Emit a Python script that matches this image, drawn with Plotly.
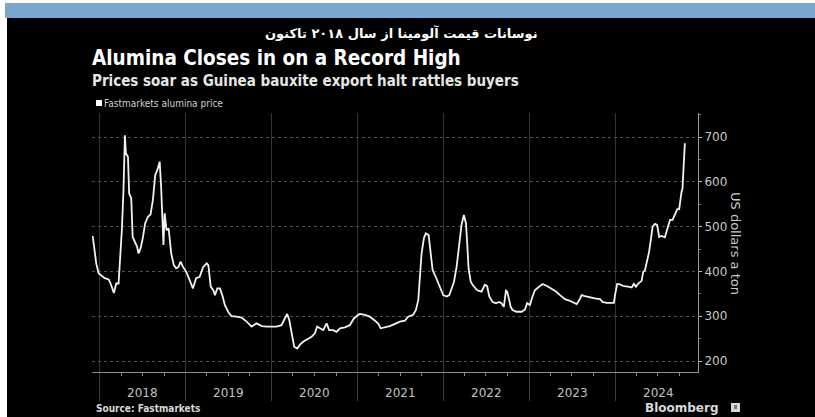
import plotly.graph_objects as go

# Fastmarkets alumina price, US dollars a ton
dates = [
    "2017-12-01", "2017-12-07", "2017-12-16", "2017-12-26", "2018-01-06", "2018-01-21",
    "2018-02-07", "2018-02-15", "2018-03-01", "2018-03-11", "2018-03-21", "2018-03-27",
    "2018-04-04", "2018-04-11", "2018-04-17", "2018-04-21", "2018-04-30", "2018-05-05",
    "2018-05-14", "2018-05-20", "2018-05-28", "2018-06-08", "2018-06-14", "2018-06-23",
    "2018-07-03", "2018-07-12", "2018-07-24", "2018-08-04", "2018-08-14", "2018-08-24",
    "2018-09-04", "2018-09-12", "2018-09-18", "2018-09-21", "2018-09-28", "2018-10-03",
    "2018-10-11", "2018-10-20", "2018-10-31", "2018-11-11", "2018-11-21", "2018-12-01",
    "2018-12-10", "2018-12-20", "2019-01-03", "2019-01-17", "2019-01-31", "2019-02-14",
    "2019-03-01", "2019-03-16", "2019-03-31", "2019-04-07", "2019-04-17", "2019-04-28",
    "2019-05-05", "2019-05-15", "2019-05-26", "2019-06-07", "2019-06-16", "2019-06-30",
    "2019-07-15", "2019-08-05", "2019-08-26", "2019-09-17", "2019-10-08", "2019-10-29",
    "2019-11-20", "2019-12-11", "2020-01-01", "2020-01-22", "2020-02-12", "2020-02-26",
    "2020-03-07", "2020-03-16", "2020-03-26", "2020-04-06", "2020-04-19", "2020-04-30",
    "2020-05-14", "2020-05-29", "2020-06-19", "2020-07-03", "2020-07-13", "2020-07-25",
    "2020-08-08", "2020-08-22", "2020-09-02", "2020-09-19", "2020-10-03", "2020-10-18",
    "2020-11-08", "2020-11-29", "2020-12-16", "2021-01-03", "2021-01-11", "2021-02-01",
    "2021-02-22", "2021-03-16", "2021-03-30", "2021-04-09", "2021-04-27", "2021-05-18",
    "2021-06-09", "2021-06-30", "2021-07-21", "2021-08-04", "2021-08-25", "2021-09-06",
    "2021-09-16", "2021-09-23", "2021-09-30", "2021-10-10", "2021-10-18", "2021-10-30",
    "2021-11-07", "2021-11-16", "2021-11-30", "2021-12-10", "2021-12-20", "2021-12-31",
    "2022-01-15", "2022-01-26", "2022-02-05", "2022-02-15", "2022-02-26", "2022-03-09",
    "2022-03-19", "2022-03-29", "2022-04-07", "2022-04-12", "2022-04-18", "2022-04-27",
    "2022-05-08", "2022-05-25", "2022-06-12", "2022-06-26", "2022-07-06", "2022-07-15",
    "2022-07-29", "2022-08-12", "2022-08-26", "2022-09-05", "2022-09-15", "2022-09-24",
    "2022-09-29", "2022-10-08", "2022-10-14", "2022-10-22", "2022-11-08", "2022-11-30",
    "2022-12-14", "2022-12-23", "2023-01-04", "2023-01-15", "2023-01-25", "2023-02-08",
    "2023-02-27", "2023-03-19", "2023-04-06", "2023-04-25", "2023-05-12", "2023-06-02",
    "2023-06-20", "2023-07-07", "2023-07-22", "2023-08-02", "2023-08-12", "2023-08-26",
    "2023-09-16", "2023-10-07", "2023-10-29", "2023-11-09", "2023-11-26", "2023-12-17",
    "2023-12-27", "2024-01-01", "2024-01-05", "2024-01-10", "2024-01-22", "2024-02-08",
    "2024-02-26", "2024-03-12", "2024-03-21", "2024-03-30", "2024-04-09", "2024-04-23",
    "2024-04-30", "2024-05-07", "2024-05-17", "2024-05-25", "2024-05-31", "2024-06-09",
    "2024-06-19", "2024-06-28", "2024-07-07", "2024-07-17", "2024-07-31", "2024-08-10",
    "2024-08-22", "2024-09-02", "2024-09-12", "2024-09-22", "2024-09-30", "2024-10-06",
    "2024-10-10", "2024-10-14", "2024-10-17", "2024-10-20", "2024-10-24",
]
prices = [
    479, 448, 418, 396, 392, 385,
    382, 373, 352, 373, 373, 418,
    492, 582, 704, 664, 656, 574,
    563, 477, 466, 455, 440, 452,
    477, 507, 522, 527, 559, 615,
    630, 645, 589, 537, 459, 530,
    492, 496, 440, 414, 407, 410,
    422, 410, 399, 381, 362, 385,
    388, 410, 418, 414, 366, 358,
    347, 362, 362, 344, 325, 310,
    300, 299, 297, 288, 277, 284,
    278, 277, 277, 277, 280, 295,
    305, 292, 262, 232, 228, 236,
    243, 248, 254, 262, 277, 273,
    269, 284, 269, 269, 265, 273,
    275, 280, 295, 303, 305, 303,
    299, 290, 283, 273, 275, 278,
    283, 288, 290, 299, 303, 314,
    336, 381, 440, 474, 485, 481,
    448, 403, 387, 375, 362, 347,
    344, 347, 362, 377, 410, 463,
    504, 526, 507, 463, 407, 377,
    368, 358, 355, 370, 367, 344,
    332, 329, 332, 329, 321, 357,
    355, 336, 321, 314, 310, 310,
    315, 329, 325, 344, 358, 364,
    372, 367, 362, 355, 347, 338,
    335, 330, 327, 336, 347, 345,
    342, 340, 338, 332, 330, 329,
    330, 347, 362, 372, 371, 367,
    366, 364, 372, 366, 373, 379,
    399, 402, 425, 444, 466, 500,
    506, 504, 477, 479, 476, 492,
    515, 515, 526, 539, 539, 567,
    578, 585, 626, 664, 686,
]

years = ["2018", "2019", "2020", "2021", "2022", "2023", "2024"]
y_ticks = [200, 300, 400, 500, 600, 700]

title = "Alumina Closes in on a Record High"
subtitle = "Prices soar as Guinea bauxite export halt rattles buyers"
fa_title = "نوسانات قیمت آلومینا از سال ۲۰۱۸ تاکنون"
series_name = "Fastmarkets alumina price"
source = "Source: Fastmarkets"
unit = "US dollars a ton"

W, H = 815, 417
L, R, T, B = 92, 698, 113, 372  # plot area in pixels


def px(x):
    return (x - L) / (R - L)


def py(y):
    return (B - y) / (B - T)


fig = go.Figure()
fig.add_trace(go.Scatter(
    x=dates, y=prices, mode="lines",
    line=dict(color="#f2f2f2", width=1.8),
    showlegend=False, hoverinfo="skip",
))

shapes = [
    # page background and top banner
    dict(type="rect", xref="paper", yref="paper", x0=px(7), x1=px(W + 5),
         y0=py(H + 5), y1=py(18), fillcolor="#000000", line_width=0, layer="below"),
    dict(type="rect", xref="paper", yref="paper", x0=px(5), x1=px(W + 5),
         y0=py(18), y1=py(3), fillcolor="#7ba6cd", line_width=0, layer="below"),
    # legend swatch
    dict(type="rect", xref="paper", yref="paper", x0=px(96), x1=px(102),
         y0=py(106), y1=py(100), fillcolor="#ffffff", line_width=0),
    # Bloomberg mark
    dict(type="rect", xref="paper", yref="paper", x0=px(731), x1=px(740),
         y0=py(412), y1=py(403), fillcolor="#d8d8d8", line_width=0),
    dict(type="rect", xref="paper", yref="paper", x0=px(734), x1=px(737),
         y0=py(409), y1=py(405), fillcolor="#777777", line_width=0),
]

font_c = "DejaVu Sans Condensed, DejaVu Sans, sans-serif"
font_n = "DejaVu Sans, sans-serif"

annotations = [
    dict(text="<b>" + fa_title + "</b>", x=px(401), y=py(33), xref="paper", yref="paper",
         xanchor="center", yanchor="middle", showarrow=False,
         font=dict(family=font_n, size=13, color="#ffffff")),
    dict(text="<b>" + title + "</b>", x=px(90), y=py(58), xref="paper", yref="paper",
         xanchor="left", yanchor="middle", showarrow=False,
         font=dict(family=font_c, size=20.5, color="#ffffff")),
    dict(text="<b>" + subtitle + "</b>", x=px(90), y=py(81), xref="paper", yref="paper",
         xanchor="left", yanchor="middle", showarrow=False,
         font=dict(family=font_c, size=15, color="#e6e6e6")),
    dict(text=series_name, x=px(102), y=py(103), xref="paper", yref="paper",
         xanchor="left", yanchor="middle", showarrow=False,
         font=dict(family=font_c, size=10, color="#cfcfcf")),
    dict(text=unit, x=px(736), y=py(243), xref="paper", yref="paper",
         xanchor="center", yanchor="middle", showarrow=False, textangle=90,
         font=dict(family=font_n, size=13, color="#c8c8c8")),
    dict(text="<b>" + source + "</b>", x=px(94), y=py(408), xref="paper", yref="paper",
         xanchor="left", yanchor="middle", showarrow=False,
         font=dict(family=font_c, size=10, color="#d8d8d8")),
    dict(text="<b>Bloomberg</b>", x=px(721), y=py(408), xref="paper", yref="paper",
         xanchor="right", yanchor="middle", showarrow=False,
         font=dict(family=font_n, size=12, color="#d8d8d8")),
]
# year labels centred in each calendar year
for yr in years:
    annotations.append(dict(
        text=yr, x=f"{yr}-07-02", y=py(393), xref="x", yref="paper",
        xanchor="center", yanchor="middle", showarrow=False,
        font=dict(family=font_n, size=12, color="#c0c0c0")))

fig.update_layout(
    width=W, height=H,
    margin=dict(l=L, r=W - R, t=T, b=H - B, pad=0),
    paper_bgcolor="#ffffff", plot_bgcolor="rgba(0,0,0,0)",
    shapes=shapes, annotations=annotations, showlegend=False,
    xaxis=dict(
        type="date", range=["2017-11-28", "2024-12-19"],
        tick0="2018-01-01", dtick="M12", showticklabels=False,
        showgrid=True, gridcolor="#333333", gridwidth=1,
        ticks="outside", ticklen=28, tickcolor="#3c3c3c", tickwidth=1,
        showline=True, linecolor="#8a8a8a", linewidth=1,
        minor=dict(dtick="M3", tick0="2018-01-01", ticks="outside", ticklen=3,
                   tickcolor="#8a8a8a", showgrid=False),
        zeroline=False, fixedrange=True,
    ),
    yaxis=dict(
        side="right", range=[175.5, 753.6], tickvals=y_ticks,
        showgrid=True, gridcolor="#505050", griddash="dot", gridwidth=1,
        ticks="outside", ticklen=3, tickcolor="#bbbbbb",
        showline=True, linecolor="#9a9a9a", linewidth=1,
        minor=dict(dtick=50, ticks="outside", ticklen=2, tickcolor="#777777", showgrid=False),
        tickfont=dict(family=font_n, size=12, color="#c8c8c8"),
        zeroline=False, fixedrange=True,
    ),
)

fig.write_html("out.html")
